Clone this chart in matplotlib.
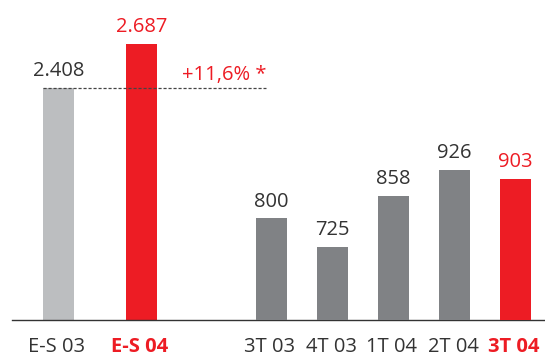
import matplotlib
matplotlib.use("Agg")
import matplotlib.pyplot as plt
import matplotlib.transforms as mtransforms

# Data
left_labels = ["E-S 03", "E-S 04"]
left_values = [2408, 2687]
right_labels = ["3T 03", "4T 03", "1T 04", "2T 04", "3T 04"]
right_values = [800, 725, 858, 926, 903]
growth_label = "+11,6% *"

# Colours
RED = "#ED1C24"
LIGHT = "#BCBEC0"
DARK = "#808285"
TXT = "#333333"

plt.rcParams["font.family"] = ["Open Sans", "DejaVu Sans"]
FS = 14.5

fig = plt.figure(figsize=(5.45, 3.58), dpi=100)
ax = fig.add_axes([12 / 545, 38 / 358, 533 / 545, 320 / 358])
ax2 = ax.twinx()

# layout (pixel-like x units)
left_x = [58.5, 141.5]
right_x = [271.5 + 61 * i for i in range(len(right_values))]
width = 31

left_colors = [LIGHT, RED]
right_colors = [DARK] * (len(right_values) - 1) + [RED]

ax.bar(left_x, left_values, width=width, color=left_colors, zorder=2)
ax2.bar(right_x, right_values, width=width, color=right_colors, zorder=2)

# truncated scales as in the original
ax.set_ylim(937, 937 + 320 / 0.1577)
ax2.set_ylim(536, 536 + 320 / 0.385)
ax.set_xlim(12, 545)

for a in (ax, ax2):
    for s in ("top", "right", "left", "bottom"):
        a.spines[s].set_visible(False)
    a.set_yticks([])
    a.set_xticks([])
ax.spines["bottom"].set_visible(True)
ax.spines["bottom"].set_color(TXT)
ax.spines["bottom"].set_linewidth(1.0)

# dashed reference line
ax.plot([43, 266], [left_values[0], left_values[0]], color="#444444",
        lw=0.9, ls=(0, (2.5, 1.5)), zorder=3)
ax.annotate(growth_label, xy=(267, left_values[0]), xytext=(0, 6),
            textcoords="offset points", ha="right", va="baseline",
            color=RED, fontsize=FS)

# value labels
for a, xs, vals, cols in ((ax, left_x, left_values, left_colors),
                          (ax2, right_x, right_values, right_colors)):
    for x, v, c in zip(xs, vals, cols):
        tc = RED if c == RED else TXT
        lab = f"{v:,}".replace(",", ".")
        a.annotate(lab, xy=(x, v), xytext=(0, 8.5), textcoords="offset points",
                   ha="center", va="baseline", color=tc, fontsize=FS)

# category labels
trans = mtransforms.blended_transform_factory(ax.transData, ax.transAxes)
for x, lab, c in zip(left_x + right_x, left_labels + right_labels,
                     left_colors + right_colors):
    red = c == RED
    ax.text(x - 1.5, -37.5 / 320, lab, transform=trans, ha="center", va="bottom",
            color=RED if red else TXT, fontsize=FS,
            fontweight="bold" if red else "normal")

fig.savefig("out.png", dpi=100)
